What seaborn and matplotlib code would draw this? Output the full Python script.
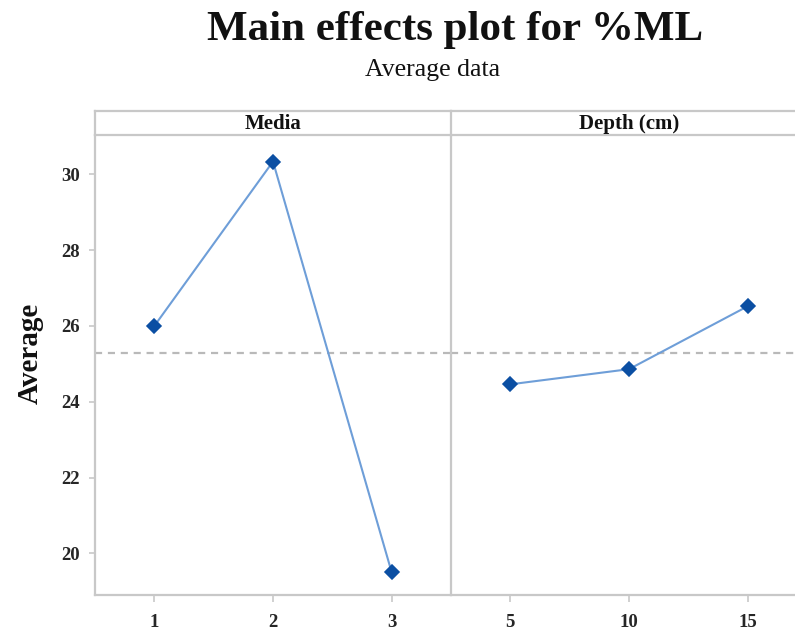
import numpy as np
import pandas as pd
import matplotlib
matplotlib.use("Agg")
import matplotlib.pyplot as plt
import seaborn as sns

# Factor levels and the mean response at each level
media_levels = ["1", "2", "3"]
media_means = [26.00, 30.34, 19.50]
depth_levels = ["5", "10", "15"]
depth_means = [24.46, 24.86, 26.52]
y_ticks = [20, 22, 24, 26, 28, 30]

sns.set_theme(style="white")
plt.rcParams["font.family"] = ["Liberation Serif", "DejaVu Serif"]

grey = "#c8c8c8"
line_blue = "#6e9ed8"
dot_blue = "#0b4fa3"

W, H = 795, 633
fig = plt.figure(figsize=(W / 100, H / 100), dpi=100)


def box(x0, y0, x1, y1):
    """Pixel box (top-left origin) -> figure-fraction rect."""
    return [x0 / W, 1 - y1 / H, (x1 - x0) / W, (y1 - y0) / H]


ax1 = fig.add_axes(box(95, 135, 451, 595))
ax2 = fig.add_axes(box(451, 135, 807, 595))
st1 = fig.add_axes(box(95, 111, 451, 135))
st2 = fig.add_axes(box(451, 111, 807, 135))

grand_mean = np.mean(media_means)

panels = [
    (ax1, st1, "Media", media_levels, media_means),
    (ax2, st2, "Depth (cm)", depth_levels, depth_means),
]

for ax, st, name, levels, means in panels:
    df = pd.DataFrame({"level": levels, "mean": means})
    ax.axhline(grand_mean, color="#b9b9b9", lw=1.6, ls=(0, (3.2, 2.6)), zorder=0)
    sns.pointplot(data=df, x="level", y="mean", order=levels, color=line_blue,
                  marker="D", markersize=7.3, linewidth=1.5, errorbar=None, ax=ax)
    for ln in ax.lines[1:]:
        ln.set_markerfacecolor(dot_blue)
        ln.set_markeredgecolor(dot_blue)
    ax.set_xlim(-0.5, 2.5)
    ax.set_ylim(18.9, 31.04)
    ax.set_xlabel("")
    ax.set_ylabel("")
    for side in ["top", "right"]:
        ax.spines[side].set_visible(False)
    for side in ["left", "bottom"]:
        ax.spines[side].set_color(grey)
        ax.spines[side].set_linewidth(1.6)
    ax.tick_params(axis="x", length=5, width=1.2, color=grey, pad=9,
                   labelsize=13.5, bottom=True)
    for lab in ax.get_xticklabels():
        lab.set_fontweight("bold")

    # strip header
    st.set_xticks([])
    st.set_yticks([])
    st.set_facecolor("white")
    st.spines["right"].set_visible(False)
    for side in ["top", "left", "bottom"]:
        st.spines[side].set_color(grey)
        st.spines[side].set_linewidth(1.6)
    st.text(0.5, 0.45, name, transform=st.transAxes, ha="center", va="center",
            fontsize=15, fontweight="bold", color="#111111")

ax1.set_yticks(y_ticks)
ax1.set_yticklabels([str(t) for t in y_ticks], fontweight="bold")
ax1.tick_params(axis="y", length=4, width=1.2, color=grey, pad=7, labelsize=13.5, left=True)
ax2.set_yticks(y_ticks)
ax2.tick_params(axis="y", left=False, labelleft=False)

fig.text(30 / W, 1 - 353 / H, "Average", rotation=90, ha="center", va="center",
         fontsize=21, fontweight="bold", color="#111111")
fig.text(455 / W, 1 - 40 / H, "Main effects plot for %ML", ha="center", va="baseline",
         fontsize=31, fontweight="bold", color="#111111")
fig.text(433 / W, 1 - 76 / H, "Average data", ha="center", va="baseline",
         fontsize=18.5, color="#111111")

fig.savefig("out.png", dpi=100, facecolor="white")
